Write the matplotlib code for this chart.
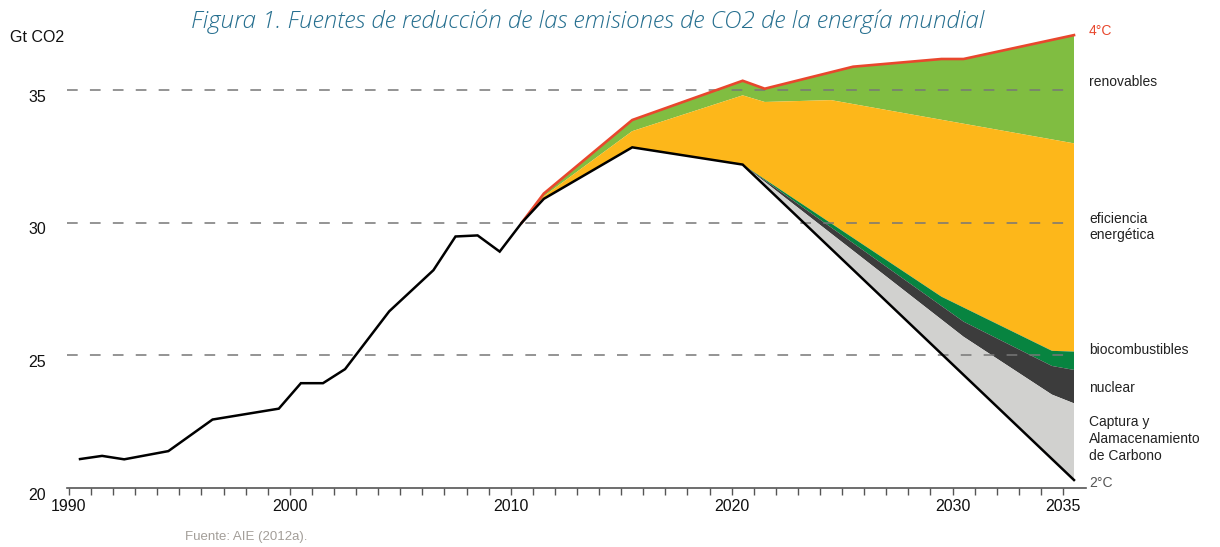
import numpy as np
import matplotlib
matplotlib.use("Agg")
import matplotlib.pyplot as plt
from matplotlib.transforms import ScaledTranslation

plt.rcParams['font.family'] = ['Liberation Sans', 'DejaVu Sans']

# historical emissions (Gt CO2)
hist_years = [1990, 1991, 1992, 1994, 1996, 1999, 2000, 2001, 2002, 2004, 2006, 2007, 2008, 2009, 2010]
hist_co2 = [21.09, 21.21, 21.08, 21.39, 22.58, 22.99, 23.95, 23.95, 24.48, 26.66, 28.21, 29.48, 29.52, 28.91, 30.0]

# 2 degree path
path2_years = [2010, 2011, 2015, 2020, 2035]
path2_co2 = [30.0, 30.9, 32.84, 32.19, 20.3]

# 4 degree path
path4_years = [2010, 2011, 2015, 2020, 2021, 2025, 2029, 2030, 2035]
path4_co2 = [30.0, 31.1, 33.87, 35.35, 35.05, 35.88, 36.17, 36.17, 37.07]

# upper edge of each wedge
eff_years = [2010, 2011, 2015, 2020, 2021, 2024, 2035]
eff_top = [30.0, 31.0, 33.45, 34.8, 34.55, 34.62, 32.99]
bio_years = [2020, 2029, 2034, 2035]
bio_top = [32.19, 27.21, 25.17, 25.14]
nuc_years = [2020, 2030, 2034, 2035]
nuc_top = [32.19, 26.27, 24.6, 24.45]
ccs_years = [2020, 2030, 2034, 2035]
ccs_top = [32.19, 25.7, 23.52, 23.19]

label_years = [1990, 2000, 2010, 2020, 2030, 2035]
y_ticks = [20, 25, 30, 35]


def band(ax, x_up, y_up, x_lo, y_lo, color):
    xs = list(x_up) + list(x_lo)[::-1]
    ys = list(y_up) + list(y_lo)[::-1]
    ax.fill(xs, ys, color=color, lw=0, zorder=1)


fig = plt.figure(figsize=(12.2, 5.47), dpi=100)
ax = fig.add_axes([0.0549, 0.1079, 0.8352, 0.8439])

# wedges
band(ax, path4_years, path4_co2, eff_years, eff_top, '#80bd41')
band(ax, eff_years, eff_top,
     path2_years[:4] + bio_years[1:], path2_co2[:4] + bio_top[1:], '#fdb71a')
band(ax, bio_years, bio_top, nuc_years, nuc_top, '#078440')
band(ax, nuc_years, nuc_top, ccs_years, ccs_top, '#3c3c3c')
band(ax, ccs_years, ccs_top, path2_years[3:], path2_co2[3:], '#d1d1cf')

# dashed reference lines
ax.hlines([25, 30, 35], 1989.41, 2035, colors='#777777',
          linestyles=(0, (7, 8)), lw=1.1, zorder=2)

# lines
ax.plot(path4_years, path4_co2, color='#e8472d', lw=1.9, zorder=3,
        solid_joinstyle='miter')
ax.plot(hist_years + path2_years[1:], hist_co2 + path2_co2[1:], color='black',
        lw=1.8, zorder=4, solid_joinstyle='miter')

ax.set_xlim(1989.41, 2035.54)
ax.set_ylim(20, 37.4)

ax.set_xticks(np.arange(1990, 2036) - 0.5, minor=True)
ax.set_xticks(np.array(label_years) - 0.5)
ax.set_xticklabels([str(y) for y in label_years])
ax.tick_params(axis='x', which='both', direction='out', length=5, width=1,
               color='#555555', pad=3, labelsize=11.5, labelcolor='#111111')

ax.set_yticks(y_ticks)
ax.set_yticklabels([str(v) for v in y_ticks])
ax.tick_params(axis='y', length=0, pad=15, labelsize=11.5, labelcolor='#111111')
for lab in ax.get_yticklabels():
    lab.set_transform(lab.get_transform() + ScaledTranslation(0, -4 / 72, fig.dpi_scale_trans))

for s in ['top', 'right', 'left']:
    ax.spines[s].set_visible(False)
ax.spines['bottom'].set_color('#555555')
ax.spines['bottom'].set_linewidth(1.2)

# labels on the right
lx = 2035.68
ax.text(lx, 37.23, '4°C', color='#e8472d', fontsize=10, va='center', clip_on=False)
ax.text(lx, 35.30, 'renovables', color='#222222', fontsize=10, va='center', clip_on=False)
ax.text(lx, 29.84, 'eficiencia\nenergética', color='#222222', fontsize=10, va='center',
        linespacing=1.25, clip_on=False)
ax.text(lx, 25.2, 'biocombustibles', color='#222222', fontsize=10, va='center', clip_on=False)
ax.text(lx, 23.77, 'nuclear', color='#222222', fontsize=10, va='center', clip_on=False)
ax.text(lx, 21.85, 'Captura y\nAlamacenamiento\nde Carbono', color='#222222', fontsize=10,
        va='center', linespacing=1.25, clip_on=False)
ax.text(lx, 20.19, '2°C', color='#555555', fontsize=10, va='center', clip_on=False)

fig.text(10 / 1220, 1 - 37 / 547, 'Gt CO2', fontsize=11.5, va='center', ha='left', color='#111111')
fig.text(588 / 1220, 1 - 22 / 547,
         'Figura 1. Fuentes de reducción de las emisiones de CO2 de la energía mundial',
         fontsize=17.5, style='italic', color='#266f8f', ha='center', va='center',
         family=['Open Sans', 'DejaVu Sans'], fontweight='light')
fig.text(185 / 1220, 1 - 537 / 547, 'Fuente: AIE (2012a).', fontsize=9.5, color='#a39e99',
         va='center', ha='left')

fig.savefig('out.png', dpi=100)
